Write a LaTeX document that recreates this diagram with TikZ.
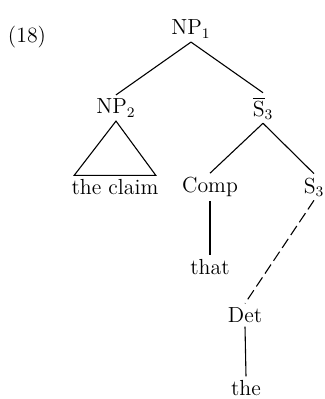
\documentclass[tikz,border=0pt]{standalone}
\usepackage{amsmath,amssymb}
\usepackage{tikz}
\tikzset{
  treelabel/.style={inner sep=2pt},
  treeedge/.style={line width=0.6pt},
  traceedge/.style={line width=0.6pt,dash pattern=on 6pt off 2.5pt},
  every picture/.style={font=\large}
}

\begin{document}
\begin{tikzpicture}[x=0.55pt,y=-0.55pt]
  \useasboundingbox (0,0) rectangle (324,399);
  \node[treelabel] (num) at (27,37) {(18)};
  \node[treelabel] (np1) at (191,29) {NP$_1$};
  \node[treelabel] (np2) at (116,108) {NP$_2$};
  \node[treelabel] (sbar) at (263,108) {$\overline{\mathrm{S}}_3$};
  \node[treelabel] (claim) at (115,187) {the claim};
  \node[treelabel] (comp) at (210,187) {Comp};
  \node[treelabel] (s3) at (314,187) {S$_3$};
  \node[treelabel] (that) at (210,267) {that};
  \node[treelabel] (det) at (245,315) {Det};
  \node[treelabel] (the) at (246,388) {the};
  \draw[treeedge] (np1.south) -- (np2.north);
  \draw[treeedge] (np1.south) -- (sbar.north);
  \draw[treeedge] (np2.south) -- ([xshift=3.6pt]claim.north west)
    -- ([xshift=-3.6pt]claim.north east) -- cycle;
  \draw[treeedge] (sbar.south) -- (comp.north);
  \draw[treeedge] (sbar.south) -- (s3.north);
  \draw[treeedge] (comp.south) -- (that.north);
  \draw[traceedge] (s3.south) -- (det.north);
  \draw[treeedge] (det.south) -- (the.north);
\end{tikzpicture}
\end{document}
